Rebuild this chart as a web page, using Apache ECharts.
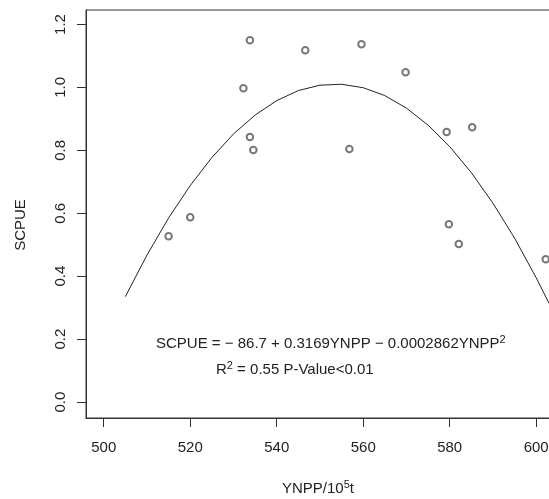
<!DOCTYPE html>
<html>
<head>
<meta charset="utf-8">
<script src="https://cdn.jsdelivr.net/npm/echarts@6/dist/echarts.min.js"></script>
<style>
html,body{margin:0;padding:0;background:#fff;}
#chart{width:549px;height:499px;}
</style>
</head>
<body>
<div id="chart"></div>
<script>
// Observed data points (YNPP, SCPUE)
var ynpp  = [515.0, 520.0, 532.3, 533.8, 533.8, 534.6, 546.6, 556.8, 559.6, 569.8, 579.3, 579.8, 582.1, 585.2, 602.2];
var scpue = [0.527, 0.587, 0.997, 1.150, 0.842, 0.801, 1.118, 0.804, 1.137, 1.048, 0.858, 0.565, 0.502, 0.873, 0.454];

// Fitted curve
var curveX = [505, 510, 515, 520, 525, 530, 535, 540, 545, 550, 555, 560, 565, 570, 575, 580, 585, 590, 595, 600, 603];
var curveY = [0.335, 0.467, 0.585, 0.688, 0.777, 0.852, 0.912, 0.958, 0.990, 1.007, 1.010, 0.999, 0.974, 0.934, 0.880, 0.812, 0.729, 0.632, 0.521, 0.395, 0.313];

// Tick labels
var xTicks = [500, 520, 540, 560, 580, 600];
var yTicks = [0.0, 0.2, 0.4, 0.6, 0.8, 1.0, 1.2];

var FONT = '"Liberation Sans", Arial, sans-serif';
var TXT = '#222';

var chart = echarts.init(document.getElementById('chart'), null, {renderer: 'canvas'});

var pts = ynpp.map(function (x, i) { return [x, scpue[i]]; });
var curve = curveX.map(function (x, i) { return [x, curveY[i]]; });

chart.setOption({
  backgroundColor: '#fff',
  animation: false,
  grid: {
    left: 86, top: 10, width: 470, height: 408,
    outerBoundsMode: 'none', containLabel: false,
    show: true, borderColor: '#333', borderWidth: 1, backgroundColor: 'transparent'
  },
  xAxis: {
    type: 'value',
    min: 495.9, max: 604.58,
    axisLine: {show: true, onZero: false, lineStyle: {color: '#333', width: 1}},
    axisTick: {show: true, length: 9, inside: false, customValues: xTicks, lineStyle: {color: '#333'}},
    axisLabel: {show: true, customValues: xTicks, margin: 22, color: TXT, fontSize: 15, fontFamily: FONT},
    splitLine: {show: false}
  },
  yAxis: {
    type: 'value',
    min: -0.0507, max: 1.246,
    axisLine: {show: true, onZero: false, lineStyle: {color: '#333', width: 1}},
    axisTick: {show: true, length: 9, inside: false, customValues: yTicks, lineStyle: {color: '#333'}},
    axisLabel: {
      show: true, customValues: yTicks, rotate: 90, margin: 18, color: TXT, fontSize: 15, fontFamily: FONT,
      formatter: function (v) { return v.toFixed(1); }
    },
    splitLine: {show: false}
  },
  series: [
    {
      type: 'line',
      data: curve,
      showSymbol: false,
      symbol: 'none',
      smooth: false,
      lineStyle: {color: '#222', width: 1},
      z: 2
    },
    {
      type: 'scatter',
      data: pts,
      symbol: 'emptyCircle',
      symbolSize: 6.5,
      itemStyle: {color: '#555', borderWidth: 0.8},
      z: 3
    }
  ],
  graphic: [
    {
      type: 'text', left: 156, top: 334,
      style: {
        text: '{a|SCPUE = − 86.7 + 0.3169YNPP − 0.0002862YNPP}{s|2}',
        rich: {
          a: {fontSize: 15, fontFamily: FONT, fill: TXT, color: TXT},
          s: {fontSize: 11, fontFamily: FONT, fill: TXT, color: TXT, verticalAlign: 'top', padding: [0, 0, 8, 0]}
        }
      }
    },
    {
      type: 'text', left: 216, top: 360,
      style: {
        text: '{a|R}{s|2}{a| = 0.55 P-Value<0.01}',
        rich: {
          a: {fontSize: 15, fontFamily: FONT, fill: TXT, color: TXT},
          s: {fontSize: 11, fontFamily: FONT, fill: TXT, color: TXT, verticalAlign: 'top', padding: [0, 0, 8, 0]}
        }
      }
    },
    {
      type: 'text', left: 282, top: 479,
      style: {
        text: '{a|YNPP/10}{s|5}{a|t}',
        rich: {
          a: {fontSize: 15, fontFamily: FONT, fill: TXT, color: TXT},
          s: {fontSize: 11, fontFamily: FONT, fill: TXT, color: TXT, verticalAlign: 'top', padding: [0, 0, 8, 0]}
        }
      }
    },
    {
      type: 'text', x: 21, y: 225, rotation: Math.PI / 2,
      style: {
        text: 'SCPUE', fontSize: 15, fontFamily: FONT, fill: TXT,
        align: 'center', verticalAlign: 'middle'
      }
    }
  ]
});
</script>
</body>
</html>
